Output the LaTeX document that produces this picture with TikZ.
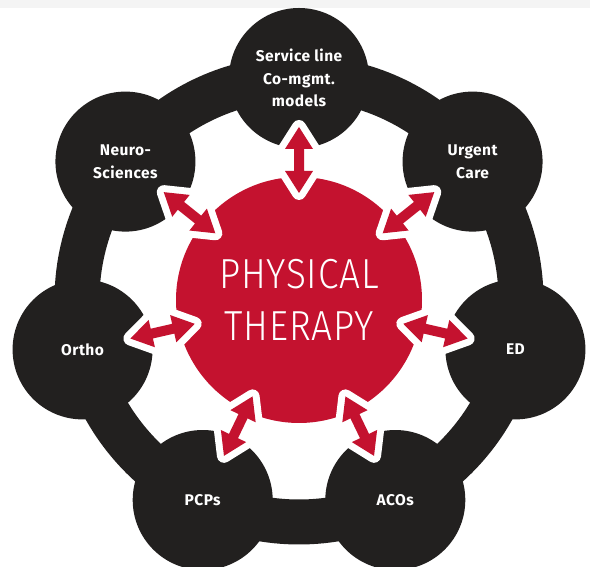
\documentclass[tikz,border=0pt]{standalone}
\usepackage{fontspec}
\setsansfont{Fira Sans}[LetterSpace=3]
\newfontfamily\ptfont{Fira Sans}[UprightFont=* Light, FakeStretch=0.88, LetterSpace=2]
\usetikzlibrary{calc}
\definecolor{ringblack}{RGB}{34,32,31}
\definecolor{ptred}{RGB}{196,18,47}
\definecolor{topgray}{RGB}{244,244,244}
% double-headed arrow from #1 to #2, drawn with style #3
\newcommand\twoway[3]{%
  \path[#3] (#1)
    -- ($(#1)!22pt!(#2)!14pt!90:(#2)$)
    -- ($(#1)!22pt!(#2)!5pt!90:(#2)$)
    -- ($(#2)!22pt!(#1)!5pt!-90:(#1)$)
    -- ($(#2)!22pt!(#1)!14pt!-90:(#1)$)
    -- (#2)
    -- ($(#2)!22pt!(#1)!14pt!90:(#1)$)
    -- ($(#2)!22pt!(#1)!5pt!90:(#1)$)
    -- ($(#1)!22pt!(#2)!5pt!-90:(#2)$)
    -- ($(#1)!22pt!(#2)!14pt!-90:(#2)$)
    -- cycle;}
\tikzset{
  hub/.style={circle, fill=ptred, minimum size=246pt, inner sep=0pt,
    text=white, align=center, font=\ptfont\fontsize{42}{52}\selectfont},
  spoke/.style={circle, fill=ringblack, minimum size=140pt, inner sep=0pt,
    text=white, align=center, font=\sffamily\bfseries\fontsize{15.5}{22.5}\selectfont},
  ring/.style={draw=ringblack, line width=45pt},
  halo/.style={fill=white, draw=white, line width=14pt, line join=round},
  link/.style={fill=ptred}
}

\begin{document}
\begin{tikzpicture}[x=1pt,y=1pt]
  \useasboundingbox (0,0) rectangle (590,567);
  \fill[topgray] (0,559) rectangle (590,567);

  \node[hub] (pt) at (299,267) {PHYSICAL\\THERAPY};
  \draw[ring] (pt.center) circle[radius=222];

  \foreach \i/\a/\t in {1/90/{Service line\\Co-mgmt.\\models}, 2/38.57/{Urgent\\Care},
      3/-12.86/ED, 4/-64.29/ACOs, 5/-115.71/PCPs, 6/-167.14/Ortho, 7/141.43/{Neuro-\\Sciences}}
    \node[spoke] (n\i) at ($(pt.center)+(\a:222)$) {\t};

  % arrows between the hub and each service
  \foreach \i in {1,...,7} {
    \coordinate (a\i) at ($(pt.center)!107pt!(n\i.center)$);
    \coordinate (b\i) at ($(pt.center)!173pt!(n\i.center)$);
  }
  \foreach \i in {1,...,7} \twoway{a\i}{b\i}{halo};
  \foreach \i in {1,...,7} \twoway{a\i}{b\i}{link};
\end{tikzpicture}
\end{document}
